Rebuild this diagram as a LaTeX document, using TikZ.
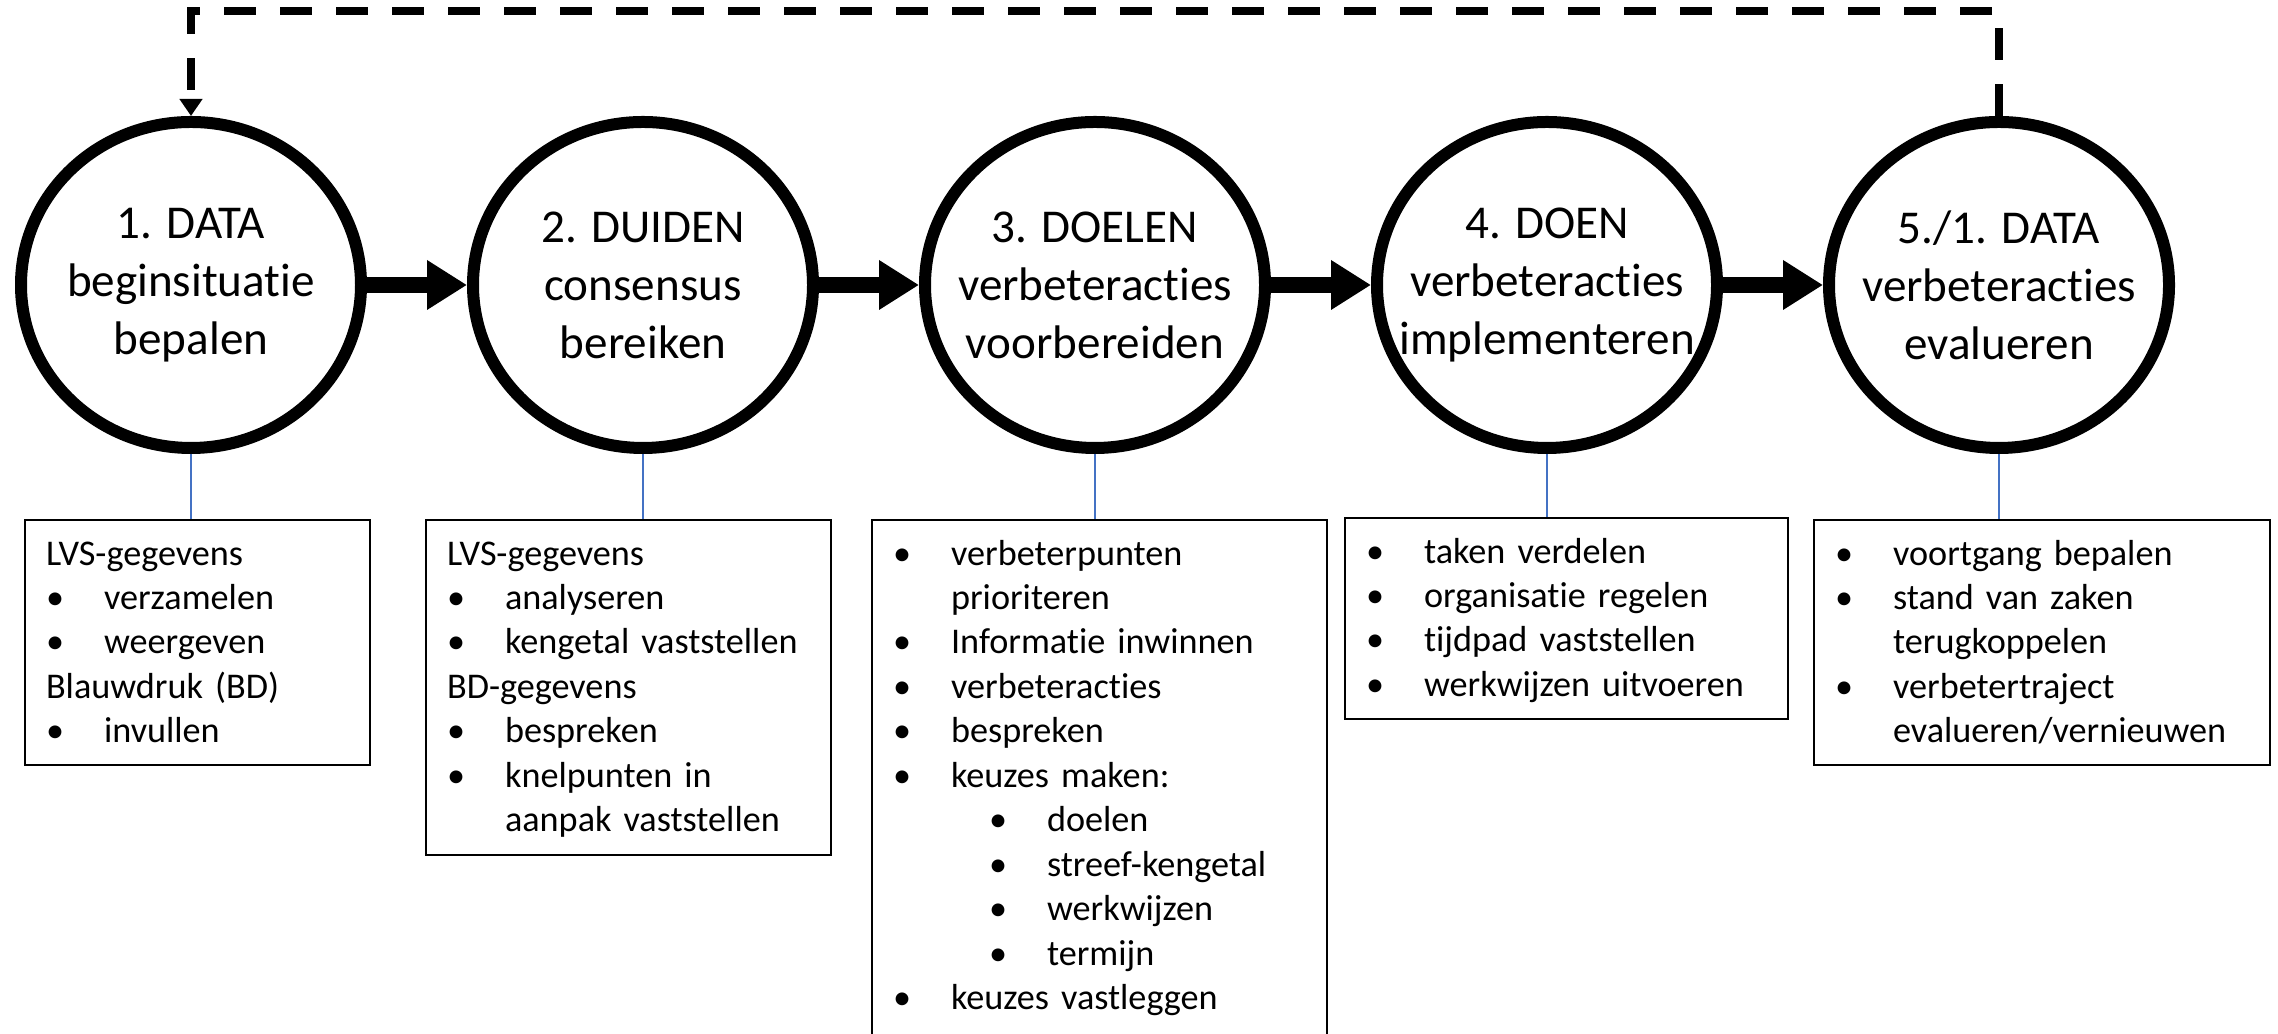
\documentclass[tikz,border=0pt]{standalone}
\usepackage{fontspec}
\setmainfont{Carlito}[Ligatures={NoCommon}]
\usetikzlibrary{arrows.meta,shapes.geometric,positioning}
\definecolor{tieblue}{HTML}{4472C4}
\newcommand{\bul}{\makebox[0.58cm][l]{\textbullet}}
\newcommand{\subbul}{\hspace*{0.96cm}\makebox[0.58cm][l]{\textbullet}}
\newcommand{\indline}{\hspace*{0.58cm}}

\begin{document}
\begin{tikzpicture}[
  stage/.style={draw=black,line width=0.12cm,ellipse,minimum width=3.40cm,minimum height=3.26cm,inner sep=0pt},
  stagetext/.style={align=center,inner sep=0pt,font=\fontsize{13.4}{16.5}\selectfont},
  flow/.style={line width=0.16cm,-{Triangle[length=0.40cm,width=0.47cm]}},
  feedback/.style={line width=0.08cm,dash pattern=on 0.32cm off 0.24cm,-{Triangle[length=0.17cm,width=0.22cm]}},
  tie/.style={draw=tieblue,line width=0.4pt},
  note/.style={draw=black,line width=0.6pt,anchor=north west,align=left,inner xsep=0.21cm,inner ysep=0pt,
    text height=0.45cm,font=\fontsize{10.3}{12.65}\selectfont}]
\useasboundingbox (0,0) rectangle (22.78,10.34);
\clip (0,0) rectangle (22.78,10.34);
\node[stage] (c1) at (1.91,7.49) {};
\node[stage] (c2) at (6.43,7.49) {};
\node[stage] (c3) at (10.95,7.49) {};
\node[stage] (c4) at (15.47,7.49) {};
\node[stage] (c5) at (19.99,7.49) {};
\node[stagetext] (t1) at (c1) {1. DATA\\beginsituatie\\bepalen};
\node[stagetext] (t2) at (c2) {2. DUIDEN\\consensus\\bereiken};
\node[stagetext] (t3) at (c3) {3. DOELEN\\verbeteracties\\voorbereiden};
\node[stagetext] (t4) at (c4) {4. DOEN\\verbeteracties\\implementeren};
\node[stagetext] (t5) at (c5) {5./1. DATA\\verbeteracties\\evalueren};
\draw[flow] (c1) -- (c2);
\draw[flow] (c2) -- (c3);
\draw[flow] (c3) -- (c4);
\draw[flow] (c4) -- (c5);
\coordinate (back5) at (19.99,10.23);
\coordinate (back1) at (1.91,10.23);
\draw[feedback] (c5.north) -- (back5) -- (back1) -- (c1.north);
\node[note,text width=3.03cm,text depth=2.00cm] (b1) at (0.24,5.15)
  {LVS-gegevens\\ \bul verzamelen\\ \bul weergeven\\ Blauwdruk (BD)\\ \bul invullen};
\node[note,text width=3.63cm,text depth=2.90cm] (b2) at (4.25,5.15)
  {LVS-gegevens\\ \bul analyseren\\ \bul kengetal vaststellen\\ BD-gegevens\\ \bul bespreken\\ \bul knelpunten in\\ \indline aanpak vaststellen};
\node[note,text width=4.13cm,text depth=5.30cm] (b3) at (8.71,5.15)
  {\bul verbeterpunten\\ \indline prioriteren\\ \bul Informatie inwinnen\\ \bul verbeteracties\\ \bul bespreken\\ \bul keuzes maken:\\ \subbul doelen\\ \subbul streef-kengetal\\ \subbul werkwijzen\\ \subbul termijn\\ \bul keuzes vastleggen};
\node[note,text width=4.01cm,text depth=1.56cm] (b4) at (13.44,5.17)
  {\bul taken verdelen\\ \bul organisatie regelen\\ \bul tijdpad vaststellen\\ \bul werkwijzen uitvoeren};
\node[note,text width=4.14cm,text depth=2.00cm] (b5) at (18.13,5.15)
  {\bul voortgang bepalen\\ \bul stand van zaken\\ \indline terugkoppelen\\ \bul verbetertraject\\ \indline evalueren/vernieuwen};
\draw[tie] (c1.south) -- (c1.south |- b1.north);
\draw[tie] (c2.south) -- (c2.south |- b2.north);
\draw[tie] (c3.south) -- (c3.south |- b3.north);
\draw[tie] (c4.south) -- (c4.south |- b4.north);
\draw[tie] (c5.south) -- (c5.south |- b5.north);
\end{tikzpicture}
\end{document}
